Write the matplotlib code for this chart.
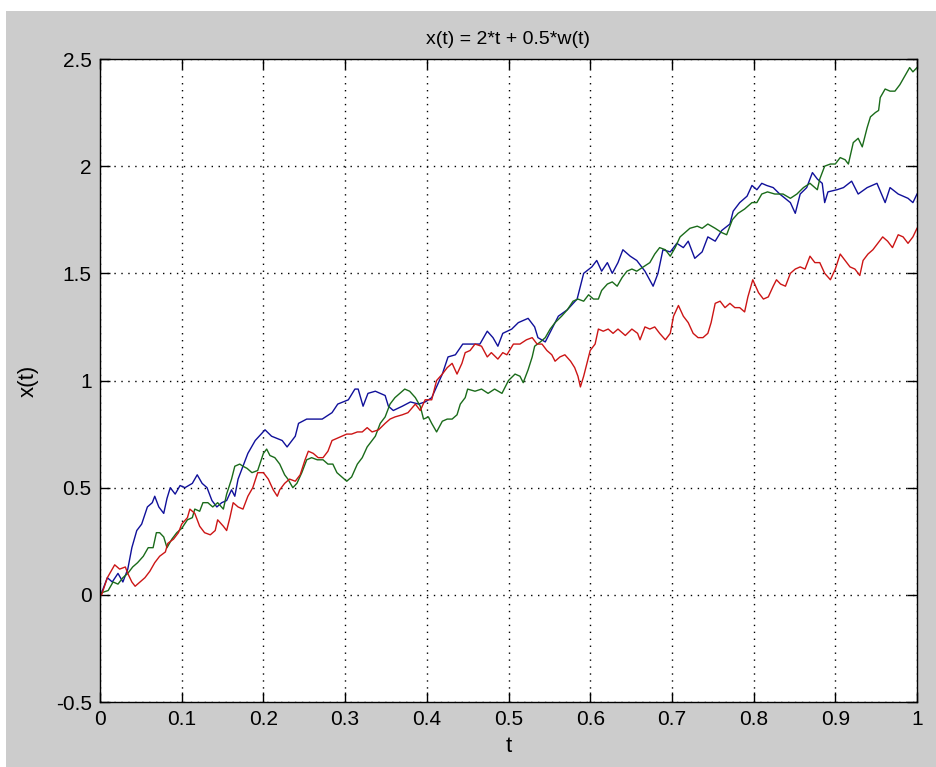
import matplotlib
matplotlib.use("Agg")
import matplotlib.pyplot as plt
from matplotlib.patches import Rectangle

# ---- data ----
t_blue = [0.0, 0.002, 0.009, 0.015, 0.022, 0.028, 0.034, 0.039, 0.045, 0.051, 0.058, 0.064, 0.067,
          0.072, 0.078, 0.082, 0.086, 0.092, 0.098, 0.104, 0.113, 0.119, 0.125, 0.131, 0.137, 0.143,
          0.149, 0.155, 0.161, 0.165, 0.169, 0.175, 0.181, 0.19, 0.202, 0.21, 0.223, 0.229, 0.239,
          0.243, 0.253, 0.263, 0.272, 0.284, 0.291, 0.304, 0.312, 0.316, 0.322, 0.328, 0.337, 0.349,
          0.353, 0.359, 0.37, 0.38, 0.39, 0.398, 0.406, 0.419, 0.426, 0.435, 0.444, 0.455, 0.465,
          0.474, 0.481, 0.487, 0.493, 0.504, 0.512, 0.524, 0.532, 0.536, 0.545, 0.553, 0.561, 0.572,
          0.584, 0.588, 0.592, 0.602, 0.608, 0.614, 0.621, 0.627, 0.634, 0.640, 0.649, 0.657, 0.667,
          0.677, 0.683, 0.689, 0.698, 0.706, 0.714, 0.720, 0.728, 0.737, 0.744, 0.753, 0.761, 0.771,
          0.775, 0.783, 0.792, 0.798, 0.804, 0.810, 0.816, 0.824, 0.832, 0.845, 0.851, 0.857, 0.865,
          0.872, 0.878, 0.884, 0.887, 0.891, 0.902, 0.910, 0.920, 0.928, 0.939, 0.951, 0.961, 0.967,
          0.977, 0.989, 0.995, 1.0]
x_blue = [0.0, 0.01, 0.08, 0.06, 0.10, 0.06, 0.12, 0.22, 0.30, 0.33, 0.41, 0.43, 0.46,
          0.41, 0.38, 0.45, 0.50, 0.47, 0.51, 0.50, 0.52, 0.56, 0.52, 0.50, 0.44, 0.41,
          0.43, 0.44, 0.49, 0.46, 0.54, 0.60, 0.66, 0.72, 0.77, 0.74, 0.72, 0.69, 0.74,
          0.80, 0.82, 0.82, 0.82, 0.85, 0.89, 0.91, 0.96, 0.96, 0.88, 0.94, 0.95, 0.93,
          0.88, 0.86, 0.88, 0.90, 0.89, 0.90, 0.92, 1.03, 1.11, 1.12, 1.17, 1.17, 1.17,
          1.23, 1.20, 1.16, 1.22, 1.24, 1.27, 1.29, 1.25, 1.20, 1.18, 1.24, 1.30, 1.33,
          1.38, 1.44, 1.50, 1.53, 1.56, 1.51, 1.55, 1.50, 1.55, 1.61, 1.58, 1.56, 1.51,
          1.44, 1.50, 1.61, 1.60, 1.64, 1.62, 1.65, 1.57, 1.60, 1.67, 1.65, 1.70, 1.73,
          1.79, 1.83, 1.86, 1.91, 1.89, 1.92, 1.91, 1.90, 1.87, 1.83, 1.78, 1.87, 1.90,
          1.97, 1.94, 1.92, 1.83, 1.88, 1.89, 1.90, 1.93, 1.87, 1.90, 1.92, 1.83, 1.90,
          1.87, 1.85, 1.83, 1.87]

t_green = [0.0, 0.002, 0.01, 0.016, 0.022, 0.028, 0.034, 0.04, 0.046, 0.053, 0.059, 0.065, 0.069,
           0.073, 0.078, 0.082, 0.088, 0.094, 0.100, 0.107, 0.113, 0.116, 0.122, 0.126, 0.132, 0.138,
           0.144, 0.151, 0.155, 0.161, 0.165, 0.171, 0.175, 0.18, 0.186, 0.193, 0.2, 0.204, 0.208,
           0.214, 0.220, 0.226, 0.23, 0.236, 0.241, 0.247, 0.253, 0.259, 0.266, 0.273, 0.279, 0.285,
           0.29, 0.296, 0.302, 0.308, 0.315, 0.321, 0.327, 0.333, 0.337, 0.343, 0.349, 0.355, 0.361,
           0.367, 0.373, 0.379, 0.386, 0.392, 0.396, 0.402, 0.406, 0.412, 0.419, 0.425, 0.431, 0.437,
           0.441, 0.447, 0.45, 0.459, 0.467, 0.475, 0.483, 0.492, 0.5, 0.508, 0.514, 0.518, 0.524,
           0.529, 0.532, 0.539, 0.545, 0.551, 0.557, 0.565, 0.572, 0.579, 0.585, 0.592, 0.598, 0.604,
           0.610, 0.614, 0.621, 0.627, 0.633, 0.639, 0.645, 0.651, 0.657, 0.665, 0.673, 0.679, 0.685,
           0.692, 0.698, 0.704, 0.71, 0.716, 0.722, 0.731, 0.737, 0.744, 0.753, 0.761, 0.767, 0.774,
           0.781, 0.789, 0.798, 0.804, 0.81, 0.817, 0.826, 0.836, 0.845, 0.853, 0.861, 0.869, 0.878,
           0.881, 0.887, 0.894, 0.9, 0.906, 0.912, 0.916, 0.922, 0.928, 0.933, 0.939, 0.943, 0.949,
           0.953, 0.955, 0.961, 0.967, 0.973, 0.979, 0.985, 0.991, 0.995, 1.0]
x_green = [0.0, 0.01, 0.02, 0.06, 0.05, 0.08, 0.10, 0.13, 0.15, 0.18, 0.22, 0.22, 0.29,
           0.29, 0.27, 0.22, 0.26, 0.29, 0.31, 0.35, 0.36, 0.40, 0.39, 0.43, 0.43, 0.41,
           0.43, 0.40, 0.47, 0.54, 0.60, 0.61, 0.60, 0.59, 0.57, 0.58, 0.66, 0.68, 0.65,
           0.64, 0.61, 0.56, 0.54, 0.50, 0.52, 0.57, 0.63, 0.64, 0.63, 0.63, 0.61, 0.61,
           0.57, 0.55, 0.53, 0.55, 0.61, 0.64, 0.69, 0.72, 0.74, 0.80, 0.83, 0.89, 0.92,
           0.94, 0.96, 0.95, 0.92, 0.88, 0.82, 0.83, 0.80, 0.76, 0.81, 0.82, 0.82, 0.84,
           0.89, 0.92, 0.96, 0.95, 0.96, 0.94, 0.96, 0.94, 1.00, 1.03, 1.02, 0.99, 1.05,
           1.11, 1.16, 1.18, 1.20, 1.24, 1.27, 1.30, 1.33, 1.37, 1.38, 1.37, 1.40, 1.38,
           1.38, 1.42, 1.45, 1.46, 1.44, 1.48, 1.51, 1.52, 1.51, 1.53, 1.55, 1.59, 1.62,
           1.61, 1.58, 1.62, 1.67, 1.69, 1.71, 1.72, 1.71, 1.73, 1.71, 1.69, 1.68, 1.75,
           1.78, 1.80, 1.83, 1.83, 1.87, 1.88, 1.87, 1.87, 1.85, 1.87, 1.90, 1.92, 1.89,
           1.94, 2.00, 2.01, 2.01, 2.04, 2.03, 2.01, 2.11, 2.13, 2.09, 2.18, 2.23, 2.25,
           2.26, 2.32, 2.36, 2.35, 2.35, 2.38, 2.42, 2.46, 2.44, 2.46]

t_red = [0.0, 0.002, 0.009, 0.015, 0.018, 0.024, 0.031, 0.034, 0.039, 0.043, 0.049, 0.055, 0.061,
         0.067, 0.073, 0.08, 0.083, 0.09, 0.096, 0.1, 0.107, 0.11, 0.116, 0.122, 0.128, 0.135,
         0.141, 0.144, 0.151, 0.155, 0.159, 0.163, 0.169, 0.175, 0.181, 0.187, 0.193, 0.2, 0.206,
         0.212, 0.217, 0.22, 0.226, 0.232, 0.239, 0.245, 0.251, 0.255, 0.261, 0.267, 0.273, 0.279,
         0.284, 0.29, 0.296, 0.302, 0.308, 0.315, 0.321, 0.327, 0.333, 0.341, 0.349, 0.355, 0.361,
         0.37, 0.377, 0.386, 0.392, 0.398, 0.406, 0.412, 0.419, 0.425, 0.431, 0.437, 0.443, 0.447,
         0.453, 0.459, 0.467, 0.474, 0.479, 0.487, 0.493, 0.498, 0.506, 0.514, 0.522, 0.529, 0.535,
         0.541, 0.547, 0.553, 0.557, 0.563, 0.569, 0.576, 0.581, 0.585, 0.588, 0.592, 0.596, 0.6,
         0.606, 0.61, 0.616, 0.622, 0.628, 0.634, 0.643, 0.651, 0.658, 0.661, 0.667, 0.673, 0.679,
         0.685, 0.692, 0.698, 0.702, 0.708, 0.714, 0.72, 0.726, 0.732, 0.738, 0.744, 0.748, 0.753,
         0.759, 0.765, 0.771, 0.777, 0.783, 0.789, 0.793, 0.799, 0.806, 0.812, 0.818, 0.824, 0.828,
         0.833, 0.839, 0.845, 0.851, 0.857, 0.863, 0.869, 0.875, 0.881, 0.887, 0.894, 0.9, 0.906,
         0.912, 0.918, 0.924, 0.93, 0.934, 0.94, 0.946, 0.952, 0.958, 0.964, 0.97, 0.977, 0.983,
         0.989, 0.995, 1.0]
x_red = [0.0, 0.0, 0.08, 0.12, 0.14, 0.12, 0.13, 0.10, 0.06, 0.04, 0.06, 0.08, 0.11,
         0.15, 0.18, 0.20, 0.24, 0.26, 0.29, 0.33, 0.36, 0.40, 0.38, 0.32, 0.29, 0.28,
         0.30, 0.35, 0.32, 0.30, 0.36, 0.43, 0.41, 0.40, 0.46, 0.50, 0.57, 0.57, 0.54,
         0.49, 0.46, 0.49, 0.52, 0.54, 0.53, 0.56, 0.63, 0.67, 0.66, 0.64, 0.64, 0.67,
         0.72, 0.73, 0.74, 0.75, 0.75, 0.76, 0.76, 0.78, 0.76, 0.77, 0.80, 0.82, 0.83,
         0.84, 0.85, 0.89, 0.86, 0.91, 0.91, 1.00, 1.03, 1.06, 1.08, 1.03, 1.08, 1.13,
         1.14, 1.17, 1.16, 1.11, 1.13, 1.10, 1.13, 1.12, 1.17, 1.17, 1.19, 1.20, 1.17,
         1.17, 1.14, 1.12, 1.09, 1.11, 1.12, 1.09, 1.06, 1.02, 0.97, 1.02, 1.08, 1.14,
         1.17, 1.24, 1.23, 1.24, 1.22, 1.24, 1.21, 1.24, 1.22, 1.19, 1.25, 1.24, 1.25,
         1.22, 1.19, 1.22, 1.30, 1.35, 1.30, 1.27, 1.22, 1.20, 1.20, 1.22, 1.27, 1.36,
         1.37, 1.34, 1.36, 1.34, 1.34, 1.32, 1.39, 1.47, 1.41, 1.38, 1.39, 1.44, 1.47,
         1.45, 1.44, 1.50, 1.52, 1.53, 1.52, 1.58, 1.55, 1.55, 1.50, 1.47, 1.52, 1.59,
         1.56, 1.53, 1.52, 1.49, 1.56, 1.59, 1.61, 1.64, 1.67, 1.65, 1.62, 1.68, 1.67,
         1.64, 1.67, 1.71]

x_ticks = [0, 0.1, 0.2, 0.3, 0.4, 0.5, 0.6, 0.7, 0.8, 0.9, 1]
x_tick_labels = ["0", "0.1", "0.2", "0.3", "0.4", "0.5", "0.6", "0.7", "0.8", "0.9", "1"]
y_ticks = [-0.5, 0, 0.5, 1, 1.5, 2, 2.5]
y_tick_labels = ["-0.5", "0", "0.5", "1", "1.5", "2", "2.5"]

title_text = "x(t) = 2*t + 0.5*w(t)"
x_label = "t"
y_label = "x(t)"

# ---- figure ----
plt.rcParams['font.family'] = ['Liberation Sans Narrow', 'Liberation Sans', 'DejaVu Sans']
fig = plt.figure(figsize=(9.36, 7.67), dpi=100)
fig.patch.set_facecolor('#cccccc')
# white screenshot margins at top and left
fig.patches.append(Rectangle((0, 1 - 11 / 767), 1, 11 / 767, transform=fig.transFigure,
                             facecolor='white', edgecolor='none', zorder=0))
fig.patches.append(Rectangle((0, 0), 6 / 936, 1, transform=fig.transFigure,
                             facecolor='white', edgecolor='none', zorder=0))

ax = fig.add_axes([100 / 936, 1 - 702 / 767, 817 / 936, 643 / 767])
ax.set_facecolor('white')

ax.plot(t_blue, x_blue, color='#10109a', linewidth=1.0)
ax.plot(t_green, x_green, color='#1a6b1a', linewidth=1.0)
ax.plot(t_red, x_red, color='#cc1515', linewidth=1.0)

ax.set_xlim(0, 1)
ax.set_ylim(-0.5, 2.5)
ax.set_xticks(x_ticks)
ax.set_xticklabels(x_tick_labels)
ax.set_yticks(y_ticks)
ax.set_yticklabels(y_tick_labels)
ax.tick_params(direction='in', length=7, width=1, top=True, right=True,
               labelsize=15, colors='black', pad=6)
ax.grid(True, linestyle=(0, (1, 4)), color='black', linewidth=1.0)
for sp in ax.spines.values():
    sp.set_color('black')
    sp.set_linewidth(1.0)

ax.set_title(title_text, fontsize=14, pad=11)
ax.set_xlabel(x_label, fontsize=16, labelpad=5)
ax.set_ylabel(y_label, fontsize=16, labelpad=12)

fig.savefig('out.png', dpi=100, facecolor=fig.get_facecolor())
